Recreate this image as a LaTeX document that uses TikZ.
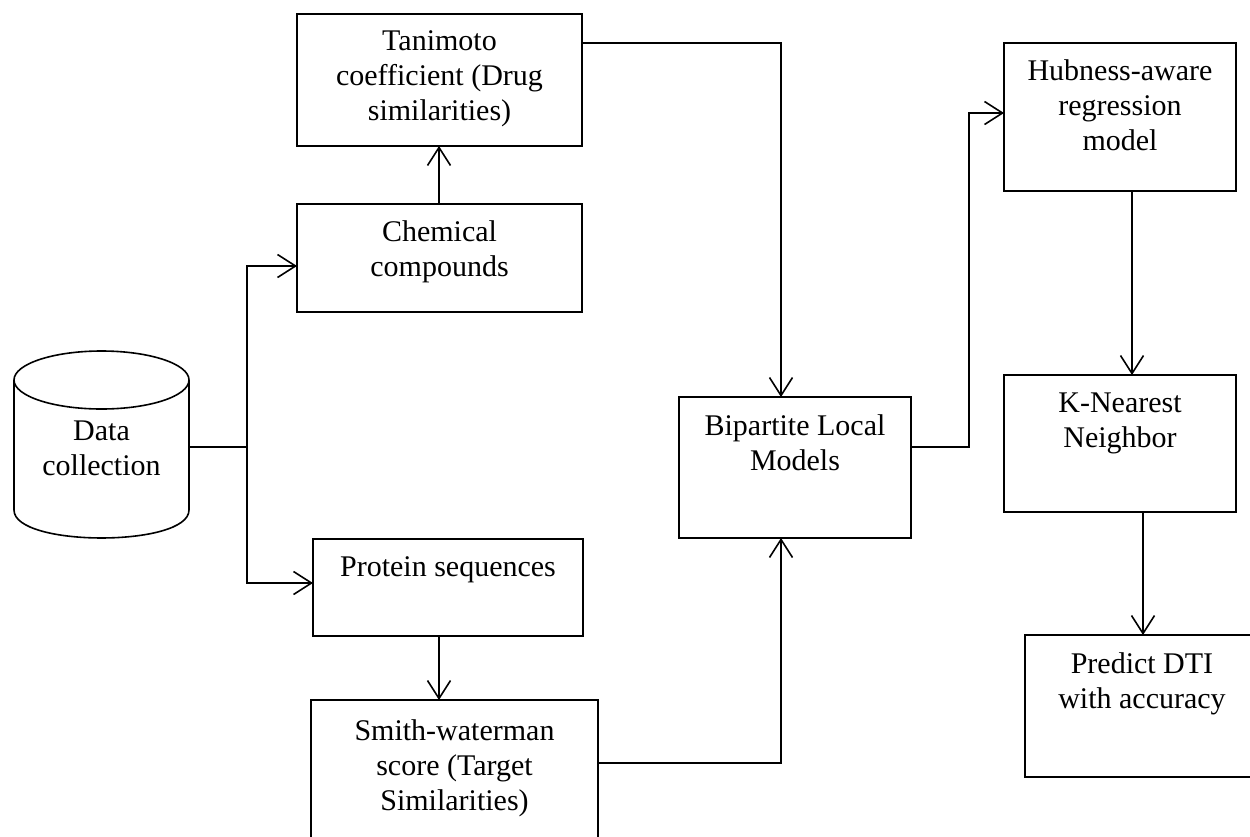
\documentclass[tikz,border=0pt]{standalone}
\usepackage{fontspec}
\setmainfont{Liberation Serif}
\usetikzlibrary{arrows.meta,calc}
\tikzset{
  box/.style={draw, line width=1.6pt, rectangle, inner sep=0pt, outer sep=0pt},
  txt/.style={align=center, inner sep=0pt, outer sep=0pt, anchor=north,
              font=\fontsize{30}{35}\selectfont},
  conn/.style={line width=1.6pt},
  arr/.style={line width=1.6pt, -{Straight Barb[length=18pt,width=23pt,line width=1.6pt]}}
}
\begin{document}
\begin{tikzpicture}[x=1pt,y=-1pt]
\clip (0,0) rectangle (1250,836);
\fill[white] (0,0) rectangle (1250,836);
% boxes
\node[box, minimum width=285pt, minimum height=132pt] (tan) at (439.5,80) {};
\node[box, minimum width=285pt, minimum height=108pt] (chem) at (439.5,258) {};
\node[box, minimum width=270pt, minimum height=97pt] (prot) at (448,587.5) {};
\node[box, minimum width=287pt, minimum height=180pt] (smith) at (454.5,790) {};
\node[box, minimum width=232pt, minimum height=141pt] (bip) at (795,467.5) {};
\node[box, minimum width=232pt, minimum height=148pt] (hub) at (1120,117) {};
\node[box, minimum width=232pt, minimum height=137pt] (knn) at (1120,443.5) {};
\node[box, minimum width=234pt, minimum height=142pt] (pred) at (1142,706) {};
% cylinder
\node[inner sep=0pt, outer sep=0pt, minimum width=175pt, minimum height=187pt] (data) at (101.5,444.5) {};
\draw[conn] (14,380) -- (14,510) .. controls (14,547.3) and (189,547.3) .. (189,510) -- (189,380);
\draw[conn] (101.5,380) ellipse [x radius=87.5pt, y radius=29pt];
% texts
\node[txt] (tant) at ($(tan.north)+(0,17)$) {Tanimoto\\coefficient (Drug\\similarities)};
\node[txt] (chemt) at ($(chem.north)+(0,17)$) {Chemical\\compounds};
\node[txt] (prott) at ($(prot.north)+(0,18)$) {Protein sequences};
\node[txt] (smitht) at ($(smith.north)+(0,20)$) {Smith-waterman\\score (Target\\Similarities)};
\node[txt] (bipt) at ($(bip.north)+(0,18)$) {Bipartite Local\\Models};
\node[txt] (hubt) at ($(hub.north)+(0,17)$) {Hubness-aware\\regression\\model};
\node[txt] (knnt) at ($(knn.north)+(0,18)$) {K-Nearest\\Neighbor};
\node[txt] (predt) at ($(pred.north)+(0,18)$) {Predict DTI\\with accuracy};
\node[txt] (datat) at (101.5,421) {Data\\collection};
% connectors
\coordinate (j) at (247,447);
\draw[conn] (data.east |- j) -- (j);
\draw[arr] (j) |- (chem.west |- 0,266);
\draw[arr] (j) |- (prot.west |- 0,583);
\draw[arr] (chem.north -| 439,0) -- (tan.south -| 439,0);
\draw[arr] (prot.south -| 439,0) -- (smith.north -| 439,0);
\draw[arr] (tan.east |- 0,43) -| (bip.north -| 781,0);
\draw[arr] (smith.east |- 0,763) -| (bip.south -| 781,0);
\draw[arr] (bip.east |- 0,447) -- (969,447) |- (hub.west |- 0,113);
\draw[arr] (hub.south -| 1132,0) -- (knn.north -| 1132,0);
\draw[arr] (knn.south -| 1143,0) -- (pred.north -| 1143,0);
\end{tikzpicture}
\end{document}
